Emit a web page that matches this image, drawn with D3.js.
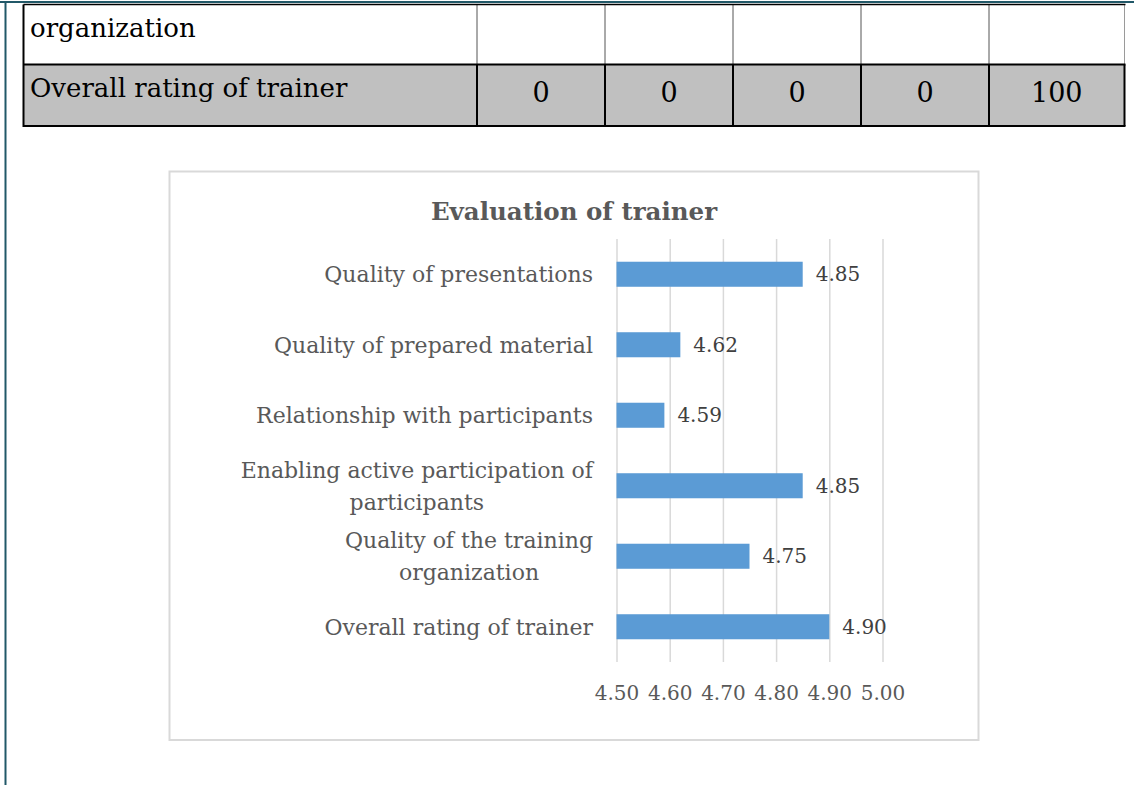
<!DOCTYPE html>
<html>
<head>
<meta charset="utf-8">
<script src="https://cdn.jsdelivr.net/npm/d3@7"></script>
<style>
  html, body { margin: 0; padding: 0; background: #fff; }
  svg { display: block; }
  text { font-family: "DejaVu Serif", "Liberation Serif", serif; }
</style>
</head>
<body>
<svg id="page" width="1134" height="786"></svg>
<script>
// ---------------- data ----------------
const chartTitle = "Evaluation of trainer";
const categories = [
  "Quality of presentations",
  "Quality of prepared material",
  "Relationship with participants",
  "Enabling active participation of participants",
  "Quality of the training organization",
  "Overall rating of trainer"
];
const values = [4.85, 4.62, 4.59, 4.85, 4.75, 4.90];
const xTickValues = [4.50, 4.60, 4.70, 4.80, 4.90, 5.00];
const xDomain = [4.50, 5.00];

const tableRowLabels = ["organization", "Overall rating of trainer"];
const tableRow2Values = [0, 0, 0, 0, 100];

// ---------------- layout ----------------
const svg = d3.select("#page");
const W = 1134, H = 786;

// page frame (document edge lines)
svg.append("line").attr("x1", 0).attr("x2", W).attr("y1", 2).attr("y2", 2)
  .attr("stroke", "#215868").attr("stroke-width", 2);
svg.append("line").attr("x1", 5.5).attr("x2", 5.5).attr("y1", 2).attr("y2", 785)
  .attr("stroke", "#215868").attr("stroke-width", 2);

// ---------------- table ----------------
const tLeft = 23.5, tRight = 1124.5, tTop = 4.5, tMid = 64.5, tBottom = 126;
const colScale = d3.scaleLinear().domain([0, tableRow2Values.length - 1]).range([477, 989]);
const colEdges = d3.range(tableRow2Values.length).map(i => colScale(i));
colEdges.push(tRight);

const tbl = svg.append("g");
// row 2 grey fill
tbl.append("rect").attr("x", tLeft).attr("y", tMid).attr("width", tRight - tLeft).attr("height", tBottom - tMid)
  .attr("fill", "#c0c0c0");
// row 1 verticals (thin)
tbl.selectAll("line.v1").data(colEdges).join("line")
  .attr("x1", d => d).attr("x2", d => d).attr("y1", tTop).attr("y2", tMid)
  .attr("stroke", (d, i) => i === colEdges.length - 1 ? "#9a9a9a" : "#555").attr("stroke-width", 1);
// row 2 verticals (thick)
tbl.selectAll("line.v2").data(colEdges).join("line")
  .attr("x1", d => d).attr("x2", d => d).attr("y1", tMid).attr("y2", tBottom)
  .attr("stroke", "#000").attr("stroke-width", 2);
// left border
tbl.append("line").attr("x1", tLeft).attr("x2", tLeft).attr("y1", tTop).attr("y2", tBottom + 1)
  .attr("stroke", "#000").attr("stroke-width", 2);
// horizontals
[[tTop, 1.5], [tMid, 2], [tBottom, 2]].forEach(([y, w]) => {
  tbl.append("line").attr("x1", tLeft).attr("x2", tRight + 1).attr("y1", y).attr("y2", y)
    .attr("stroke", "#000").attr("stroke-width", w);
});
// labels
const rowBaselines = [37, 97];
tbl.selectAll("text.rl").data(tableRowLabels).join("text")
  .attr("x", 30).attr("y", (d, i) => rowBaselines[i])
  .attr("font-size", 26).attr("fill", "#000").text(d => d);
// row 2 values
tbl.selectAll("text.rv").data(tableRow2Values).join("text")
  .attr("x", (d, i) => (colEdges[i] + colEdges[i + 1]) / 2)
  .attr("y", 102).attr("text-anchor", "middle")
  .attr("font-size", 27).attr("fill", "#000").text(d => d);

// ---------------- chart ----------------
const box = { x: 169.5, y: 171.5, w: 809, h: 568.5 };
svg.append("rect").attr("x", box.x).attr("y", box.y).attr("width", box.w).attr("height", box.h)
  .attr("fill", "#fff").attr("stroke", "#d9d9d9").attr("stroke-width", 2);

svg.append("text").attr("x", box.x + box.w / 2).attr("y", 220)
  .attr("text-anchor", "middle").attr("font-size", 24.5).attr("font-weight", "bold")
  .attr("fill", "#595959").text(chartTitle);

const plot = { left: 616.5, right: 882.5, top: 239, bottom: 662 };
const x = d3.scaleLinear().domain(xDomain).range([plot.left, plot.right]);
const y = d3.scaleBand().domain(categories).range([plot.top, plot.bottom])
  .paddingInner(0.645).paddingOuter(0.3225);

// gridlines
svg.append("g")
  .attr("transform", `translate(0,${plot.bottom})`)
  .call(d3.axisBottom(x).tickValues(xTickValues).tickSize(-(plot.bottom - plot.top)).tickFormat(""))
  .call(g => g.select(".domain").remove())
  .call(g => g.selectAll(".tick line").attr("stroke", "#d9d9d9").attr("stroke-width", 1.5));

// tick labels
svg.append("g")
  .attr("transform", `translate(0,${plot.bottom})`)
  .call(d3.axisBottom(x).tickValues(xTickValues).tickSize(0).tickPadding(0).tickFormat(d3.format(".2f")))
  .call(g => g.select(".domain").remove())
  .call(g => g.selectAll(".tick text")
    .attr("font-family", "DejaVu Serif").attr("font-size", 20).attr("fill", "#595959")
    .attr("dy", null).attr("y", 38));

// bars
svg.append("g").selectAll("rect").data(categories).join("rect")
  .attr("x", x(xDomain[0]))
  .attr("y", d => y(d))
  .attr("width", (d, i) => x(values[i]) - x(xDomain[0]))
  .attr("height", y.bandwidth())
  .attr("fill", "#5b9bd5");

// data labels
svg.append("g").selectAll("text").data(categories).join("text")
  .attr("x", (d, i) => x(values[i]) + 13)
  .attr("y", d => y(d) + y.bandwidth() / 2)
  .attr("dy", "0.36em")
  .attr("font-size", 20).attr("fill", "#404040")
  .text((d, i) => d3.format(".2f")(values[i]));

// category labels (wrapped)
const labelRight = 593, wrapWidth = 370, lineH = 32;
const catG = svg.append("g");
categories.forEach(cat => {
  const t = catG.append("text").attr("font-size", 22).attr("fill", "#595959");
  const words = cat.split(" ");
  const lines = [];
  let cur = [];
  const probe = t.append("tspan");
  words.forEach(w => {
    const test = cur.concat([w]).join(" ");
    probe.text(test);
    if (probe.node().getComputedTextLength() > wrapWidth && cur.length) {
      lines.push(cur.join(" "));
      cur = [w];
    } else cur.push(w);
  });
  lines.push(cur.join(" "));
  probe.remove();
  const widths = lines.map(l => { const p = t.append("tspan").text(l); const w = p.node().getComputedTextLength(); p.remove(); return w; });
  const blockW = d3.max(widths);
  const cx = labelRight - blockW / 2;
  const cy = y(cat) + y.bandwidth() / 2;
  lines.forEach((l, i) => {
    t.append("tspan").attr("x", cx).attr("text-anchor", "middle")
      .attr("y", cy + (i - (lines.length - 1) / 2) * lineH)
      .attr("dy", "0.36em").text(l);
  });
});
</script>
</body>
</html>
